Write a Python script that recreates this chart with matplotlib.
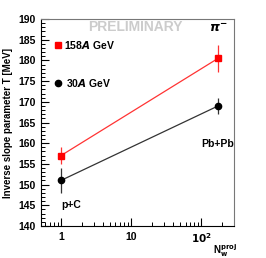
import numpy as np
import matplotlib

matplotlib.use("Agg")
from matplotlib import pyplot as plt
from matplotlib.ticker import MultipleLocator, FixedLocator, NullFormatter

# data
n_wounded = [1.0, 175.0]
t_158 = [157.0, 180.5]
err_158 = [2.0, 3.2]
t_30 = [151.0, 169.0]
err_30 = [3.0, 2.0]

plt.rcParams['font.family'] = ['Liberation Sans', 'DejaVu Sans']
plt.rcParams['font.weight'] = 'bold'

fig = plt.figure(figsize=(2.66, 2.58), dpi=100)
ax = fig.add_axes([41 / 266, 1 - 226 / 258, 193 / 266, 207 / 258])

ax.errorbar(n_wounded, t_158, yerr=err_158, color='#ff3333', marker='s', ms=4.5,
            mfc='red', mec='red', lw=0.9, elinewidth=0.9, capsize=0)
ax.errorbar(n_wounded, t_30, yerr=err_30, color='#333333', marker='o', ms=4.5,
            mfc='black', mec='black', lw=0.9, elinewidth=0.9, capsize=0)

ax.set_xscale('log')
ax.set_xlim(0.52, 295)
ax.set_ylim(140, 190)

ax.yaxis.set_major_locator(MultipleLocator(5))
ax.yaxis.set_minor_locator(MultipleLocator(1))
ax.xaxis.set_major_locator(FixedLocator([1, 10, 100]))
ax.set_xticklabels(['1', '10', r'$\mathbf{10^2}$'])
ax.xaxis.set_minor_formatter(NullFormatter())
ax.tick_params(direction='in', labelsize=7.5, width=0.8, length=6, pad=4)
ax.tick_params(which='minor', direction='in', width=0.7, length=3)
ax.tick_params(axis='x', top=False)
for s in ax.spines.values():
    s.set_linewidth(0.8)
ax.spines['top'].set_color('#777777')
ax.spines['right'].set_color('#777777')

ax.set_ylabel('Inverse slope parameter T [MeV]', fontsize=7, fontweight='bold')
ax.yaxis.set_label_coords(-0.145, 0.5)
fig.text(225 / 266, 1 - 251 / 258, r'N$_{\mathbf{w}}^{\mathbf{proj}}$', fontsize=7,
         ha='center', va='center', fontweight='bold')

# legend drawn by hand
ax.plot([0.9], [183.8], 's', color='red', ms=4.5, clip_on=False)
ax.text(1.1, 183.8, r'158$\boldsymbol{A}$ GeV', fontsize=7.5, va='center')
ax.plot([0.9], [174.5], 'o', color='black', ms=4.5, clip_on=False)
ax.text(1.18, 174.5, r'30$\mathit{A}$ GeV', fontsize=7.5, va='center')

ax.text(0.49, 0.96, 'PRELIMINARY', transform=ax.transAxes, fontsize=10,
        fontweight='bold', color='#cccccc', ha='center', va='center')
ax.text(0.97, 0.955, r'$\pi^{-}$', transform=ax.transAxes, fontsize=9,
        ha='right', va='center')
ax.text(1.0, 145.0, 'p+C', fontsize=7.5, ha='left', va='center')
ax.text(100, 159.8, 'Pb+Pb', fontsize=7.5, ha='left', va='center')

fig.savefig('out.png', dpi=100)
